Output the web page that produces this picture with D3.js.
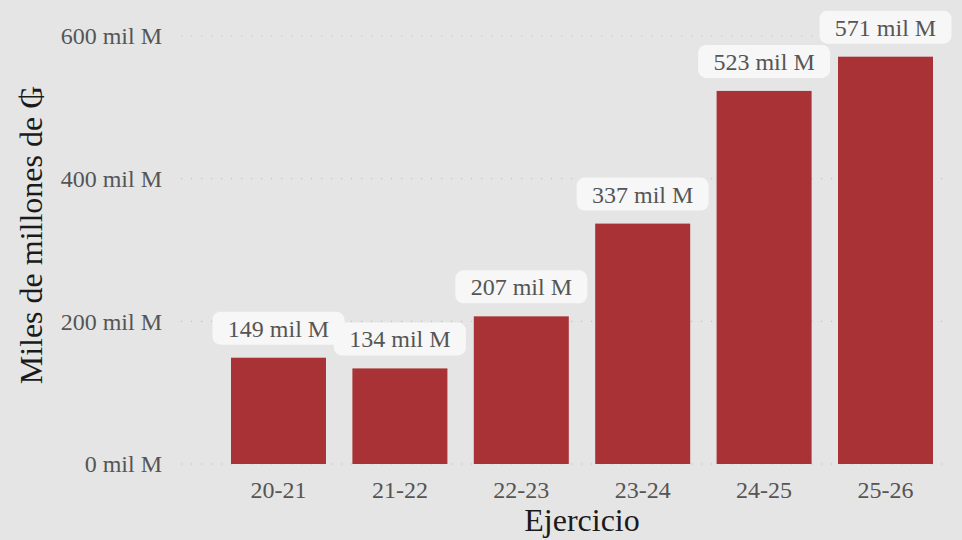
<!DOCTYPE html>
<html><head><meta charset="utf-8">
<script src="https://cdn.jsdelivr.net/npm/d3@7"></script>
<style>body{margin:0;background:#e5e5e5;}svg{display:block;}</style>
</head><body>
<script>
const categories = ["20-21","21-22","22-23","23-24","24-25","25-26"];
const values = [149,134,207,337,523,571];
const yTicks = [0,200,400,600];
const labels = values.map(v => v + " mil M");

const W = 962, H = 540;
const svg = d3.select("body").append("svg").attr("width", W).attr("height", H);
svg.append("rect").attr("width", W).attr("height", H).attr("fill", "#e5e5e5");

const font = "'Liberation Serif','Times New Roman',serif";
const x = d3.scalePoint().domain(categories).range([278.5, 885.5]);
const bw = 95;
const y = d3.scaleLinear().domain([0, 600]).range([464, 36]);

// grid
svg.append("g").selectAll("line").data(yTicks).join("line")
  .attr("x1", 181).attr("x2", 945)
  .attr("y1", d => y(d)).attr("y2", d => y(d))
  .attr("stroke", "#c4c4c4").attr("stroke-width", 1.1)
  .attr("stroke-dasharray", "1.2,8.8");

// y tick labels
svg.append("g").selectAll("text").data(yTicks).join("text")
  .attr("x", 162).attr("y", d => y(d)).attr("dy", "0.35em")
  .attr("text-anchor", "end").attr("fill", "#555555")
  .style("font-family", font).style("font-size", "24px")
  .text(d => d + " mil M");

// bars
svg.append("g").selectAll("rect").data(values).join("rect")
  .attr("x", (d, i) => x(categories[i]) - bw / 2).attr("width", bw)
  .attr("y", d => y(d)).attr("height", d => y(0) - y(d))
  .attr("fill", "#a83236");

// labels
const lg = svg.append("g").selectAll("g").data(values).join("g")
  .attr("transform", (d, i) => `translate(${x(categories[i])},${y(d) - 13})`);
lg.append("rect")
  .attr("x", -66).attr("y", -33).attr("width", 132).attr("height", 33)
  .attr("rx", 8).attr("fill", "#f7f7f7");
lg.append("text")
  .attr("x", 0).attr("y", -16.5).attr("dy", "0.35em")
  .attr("text-anchor", "middle").attr("fill", "#555555")
  .style("font-family", font).style("font-size", "24px")
  .text((d, i) => labels[i]);

// x tick labels
svg.append("g").selectAll("text").data(categories).join("text")
  .attr("x", d => x(d)).attr("y", 490).attr("dy", "0.35em")
  .attr("text-anchor", "middle").attr("fill", "#555555")
  .style("font-family", font).style("font-size", "24px")
  .text(d => d);

// axis titles
svg.append("text").attr("x", 582).attr("y", 520).attr("dy", "0.35em")
  .attr("text-anchor", "middle").attr("fill", "#1a1a1a")
  .style("font-family", font).style("font-size", "32px")
  .text("Ejercicio");
svg.append("text").attr("transform", "translate(31,235) rotate(-90)")
  .attr("dy", "0.35em").attr("text-anchor", "middle").attr("fill", "#1a1a1a")
  .style("font-family", font).style("font-size", "32px")
  .text("Miles de millones de ₲");
</script>
</body></html>
